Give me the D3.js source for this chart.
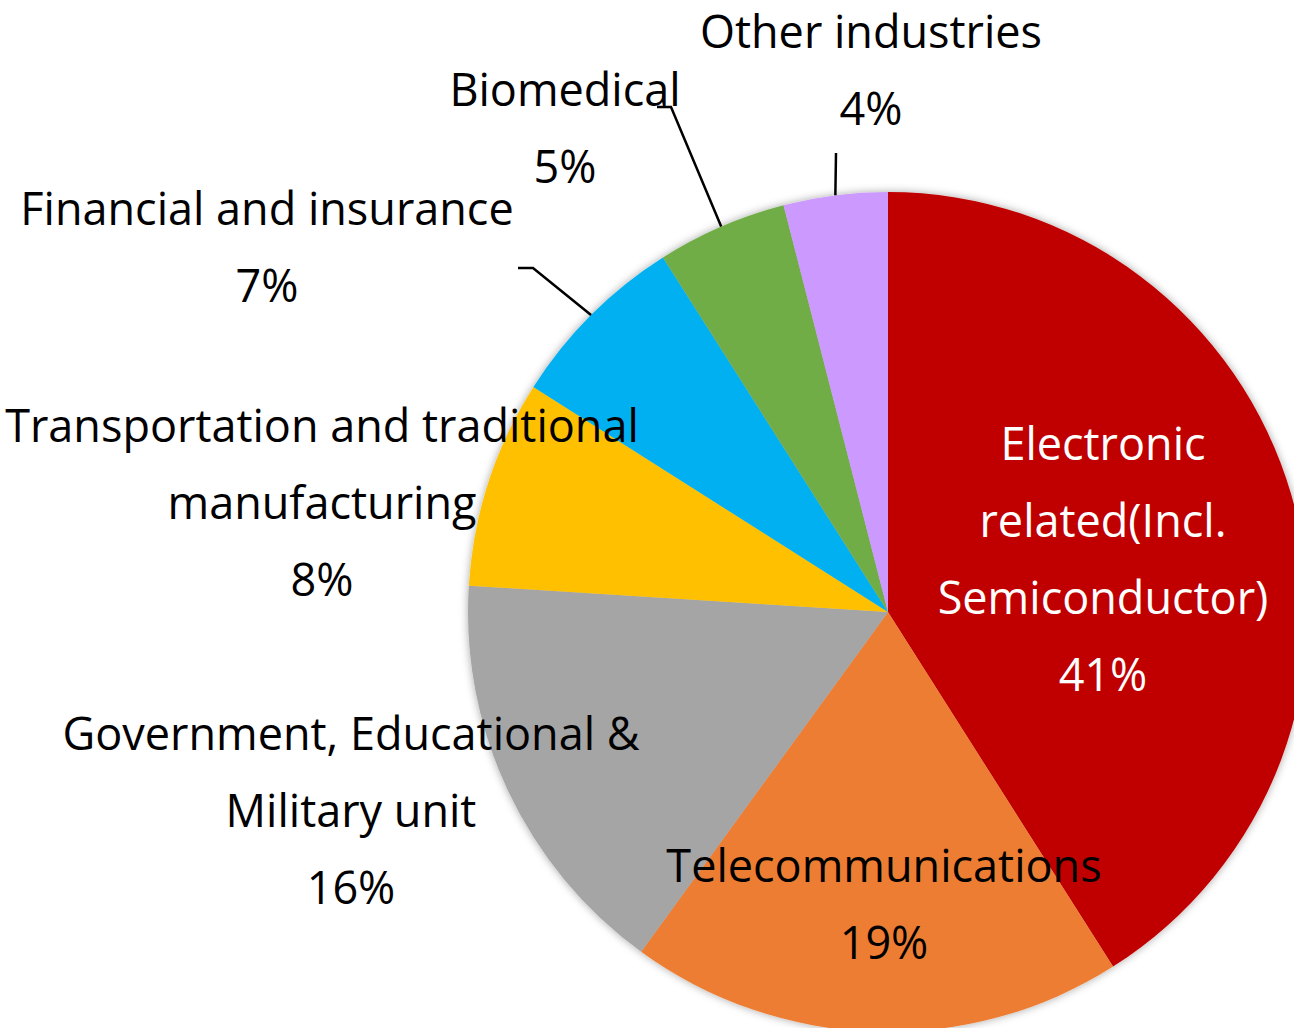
<!DOCTYPE html>
<html lang="en">
<head>
  <meta charset="UTF-8">
  <script src="https://d3js.org/d3.v7.min.js"></script>
  <style>
    body {
      margin: 0;
      background: #fff;
      overflow: hidden;
    }

    text {
      font-family: "Open Sans", "Noto Sans", sans-serif;
      font-size: 45px;
    }

    .leader {
      fill: none;
      stroke: #000;
      stroke-width: 2.5;
    }
  </style>
</head>
<body>
  <div id="chart"></div>

  <script>
    // Data
    var categories = [
      "Electronic related(Incl. Semiconductor)",
      "Telecommunications",
      "Government, Educational & Military unit",
      "Transportation and traditional manufacturing",
      "Financial and insurance",
      "Biomedical",
      "Other industries"
    ];
    var values = [41, 19, 16, 8, 7, 5, 4];
    var labelLines = [
      ["Electronic", "related(Incl.", "Semiconductor)"],
      ["Telecommunications"],
      ["Government, Educational &", "Military unit"],
      ["Transportation and traditional", "manufacturing"],
      ["Financial and insurance"],
      ["Biomedical"],
      ["Other industries"]
    ];
    var colors = ["#C00000", "#ED7D31", "#A5A5A5", "#FFC000", "#00B0F0", "#70AD47", "#CC99FF"];

    // Layout
    var width = 1294;
    var height = 1028;
    var cx = 888, cy = 612, radius = 420;
    var lineHeight = 77;

    // label centre x and first baseline y, text colour, optional leader elbow
    var labelPos = [
      { x: 1103, y: 460, fill: "#fff" },
      { x: 884, y: 882, fill: "#000" },
      { x: 351, y: 750, fill: "#000" },
      { x: 322, y: 442, fill: "#000" },
      { x: 267, y: 225, fill: "#000", leader: [[518, 268], [533, 268]] },
      { x: 565, y: 106, fill: "#000", leader: [[657, 107], [671, 107]] },
      { x: 871, y: 48, fill: "#000", leader: [[836, 153]] }
    ];

    var svg = d3.select("#chart")
      .append("svg")
      .attr("width", width)
      .attr("height", height);

    var defs = svg.append("defs");
    var filter = defs.append("filter")
      .attr("id", "shadow")
      .attr("x", "-10%").attr("y", "-10%")
      .attr("width", "120%").attr("height", "120%");
    filter.append("feDropShadow")
      .attr("dx", 0).attr("dy", 0)
      .attr("stdDeviation", 4)
      .attr("flood-color", "#000")
      .attr("flood-opacity", 0.35);

    var g = svg.append("g")
      .attr("transform", "translate(" + cx + "," + cy + ")");

    var pie = d3.pie().sort(null).value(function (d) { return d; });
    var arcs = pie(values);

    var arc = d3.arc().innerRadius(0).outerRadius(radius);

    g.append("g")
      .attr("filter", "url(#shadow)")
      .selectAll("path")
      .data(arcs)
      .enter()
      .append("path")
      .attr("d", arc)
      .attr("fill", function (d, i) { return colors[i]; });

    // Leader lines: from elbow points to the arc edge at the slice mid angle
    arcs.forEach(function (d, i) {
      var p = labelPos[i];
      if (!p.leader) return;
      var mid = (d.startAngle + d.endAngle) / 2;
      var edge = [cx + radius * Math.sin(mid), cy - radius * Math.cos(mid)];
      var pts = p.leader.concat([edge]);
      svg.append("path")
        .attr("class", "leader")
        .attr("d", d3.line()(pts));
    });

    // Labels
    var labels = svg.selectAll(".label")
      .data(arcs)
      .enter()
      .append("text")
      .attr("class", "label")
      .attr("text-anchor", "middle")
      .attr("fill", function (d, i) { return labelPos[i].fill; });

    labels.each(function (d, i) {
      var t = d3.select(this);
      var lines = labelLines[i].concat([values[i] + "%"]);
      lines.forEach(function (line, k) {
        t.append("tspan")
          .attr("x", labelPos[i].x)
          .attr("y", labelPos[i].y + k * lineHeight)
          .text(line);
      });
    });
  </script>
</body>
</html>
